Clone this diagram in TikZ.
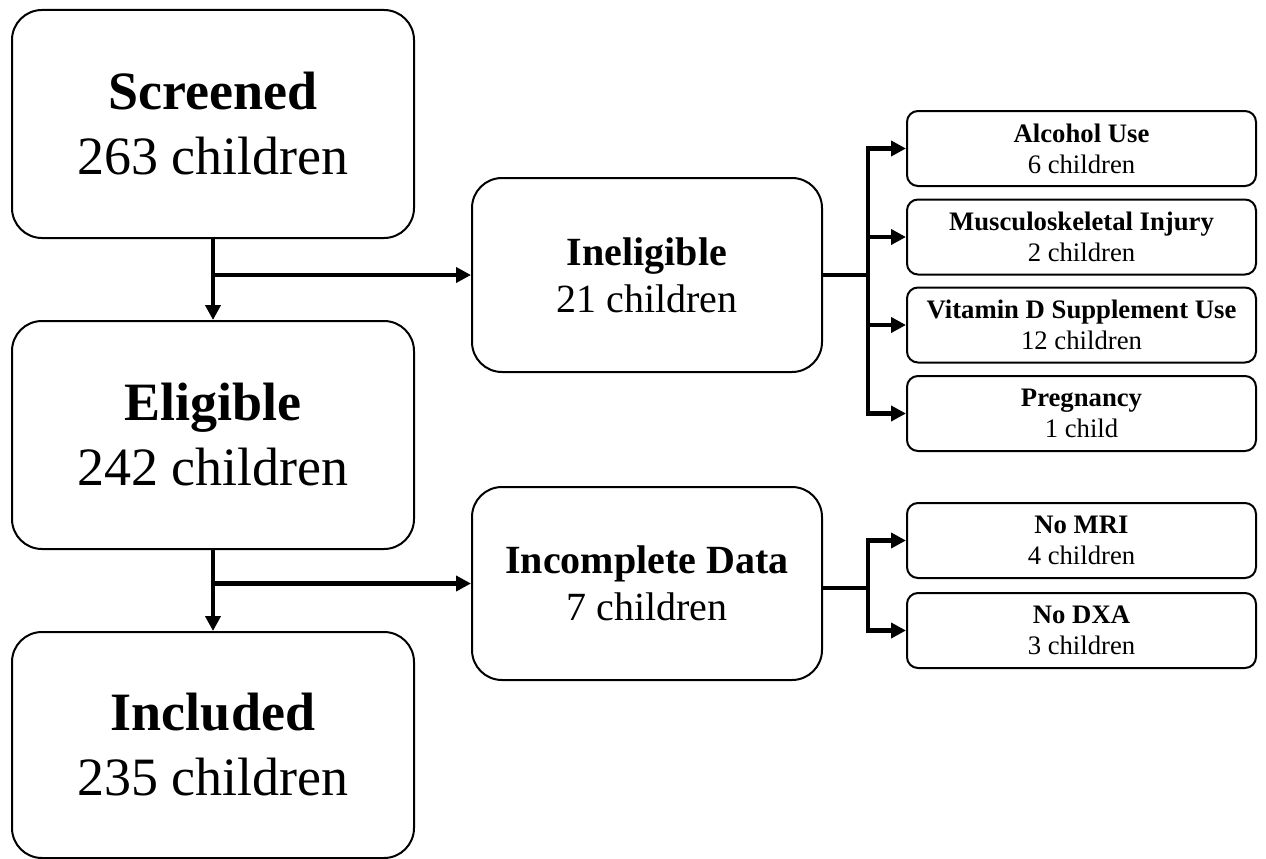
\documentclass[tikz,border=0pt]{standalone}
\usepackage{fontspec}
\setmainfont{Liberation Serif}
\usetikzlibrary{arrows.meta}
\begin{document}
\begin{tikzpicture}[x=1pt,y=-1pt,
  box/.style={draw=black,line width=2pt,rounded corners=30pt,fill=white,inner sep=0pt,align=center},
  bigbox/.style={box,minimum width=402pt,minimum height=228pt,font=\fontsize{54}{65}\selectfont},
  midbox/.style={box,minimum width=350pt,minimum height=194pt,font=\fontsize{40}{47}\selectfont},
  smallbox/.style={box,rounded corners=11pt,minimum width=349pt,minimum height=75pt,font=\fontsize{26.7}{31}\selectfont},
  conn/.style={line width=4.5pt},
  arr/.style={conn,-{Triangle[length=15pt,width=15pt]}}]
\useasboundingbox (0,0) rectangle (1266,859);
\node[bigbox] (scr) at (213,124) {\textbf{Screened}\\263 children};
\node[bigbox] (elig) at (213,435) {\textbf{Eligible}\\242 children};
\node[bigbox,minimum height=226pt] (incl) at (213,745) {\textbf{Included}\\235 children};
\node[midbox] (inel) at (647,275) {\textbf{Ineligible}\\21 children};
\node[midbox,minimum height=193pt] (inc) at (647,583.5) {\textbf{Incomplete Data}\\7 children};
\node[smallbox] (alc) at (1081.5,148.5) {\textbf{Alcohol Use}\\6 children};
\node[smallbox] (mus) at (1081.5,237) {\textbf{Musculoskeletal Injury}\\2 children};
\node[smallbox] (vit) at (1081.5,325) {\textbf{Vitamin D Supplement Use}\\12 children};
\node[smallbox] (preg) at (1081.5,413.5) {\textbf{Pregnancy}\\1 child};
\node[smallbox] (mri) at (1081.5,540.5) {\textbf{No MRI}\\4 children};
\node[smallbox] (dxa) at (1081.5,630.5) {\textbf{No DXA}\\3 children};
% main flow
\draw[arr] (scr.south) -- (elig.north);
\draw[arr] (scr.south |- inel.west) -- (inel.west);
\draw[arr] (elig.south) -- (incl.north);
\draw[arr] (elig.south |- inc.west) -- (inc.west);
% ineligible branch
\coordinate (b1) at (868,275);
\draw[conn] (inel.east) -- (b1);
\draw[conn,line cap=rect] (b1 |- alc.west) -- (b1 |- preg.west);
\foreach \n in {alc,mus,vit,preg} \draw[arr] (b1 |- \n.west) -- (\n.west);
% incomplete branch
\coordinate (b2) at (868,588);
\draw[conn] (inc.east |- b2) -- (b2);
\draw[conn,line cap=rect] (b2 |- mri.west) -- (b2 |- dxa.west);
\foreach \n in {mri,dxa} \draw[arr] (b2 |- \n.west) -- (\n.west);
\end{tikzpicture}
\end{document}
